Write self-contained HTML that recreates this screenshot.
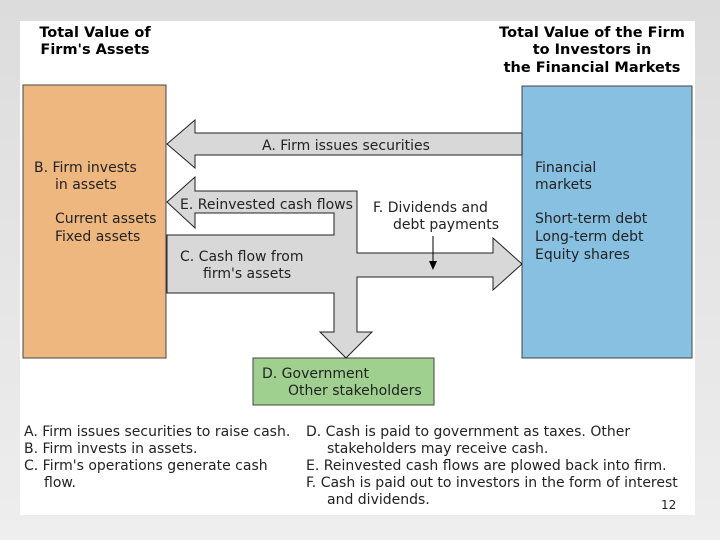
<!DOCTYPE html>
<html><head><style>
body{margin:0;width:720px;height:540px;background:linear-gradient(#dcdcdc,#eeeeee);position:relative;overflow:hidden;font-family:"DejaVu Sans","Liberation Sans",sans-serif;}
#w{position:absolute;left:20px;top:21px;width:675px;height:494px;background:#fff;}
svg{position:absolute;left:0;top:0}
</style></head><body>
<div id="w"></div>
<svg width="720" height="540" font-family="DejaVu Sans, Liberation Sans, sans-serif" font-size="14">
<text x="95" y="37" font-weight="bold" text-anchor="middle" font-size="14.5">Total Value of</text>
<text x="95" y="54" font-weight="bold" text-anchor="middle" font-size="14.5">Firm's Assets</text>
<text x="592" y="37" font-weight="bold" text-anchor="middle" font-size="14.5">Total Value of the Firm</text>
<text x="592" y="54" font-weight="bold" text-anchor="middle" font-size="14.5">to Investors in</text>
<text x="592" y="72" font-weight="bold" text-anchor="middle" font-size="14.5">the Financial Markets</text>
<rect x="23" y="85" width="143" height="273" fill="#eeb77f" stroke="#444" stroke-width="1"/>
<rect x="522" y="86" width="170" height="272" fill="#87c0e0" stroke="#444" stroke-width="1"/>
<rect x="253" y="358" width="181" height="47" fill="#9fd08f" stroke="#444" stroke-width="1"/>
<polygon points="167,144 195,120 195,133 522,133 522,155 195,155 195,168" fill="#d8d8d8" stroke="#222" stroke-width="1"/>
<polygon points="167,202 195,177 195,191 357,191 357,253 493,253 493,238 522,264 493,290 493,277 357,277 357,332 372,332 346,358 320,332 334,332 334,293 167,293 167,235 334,235 334,213 195,213 195,228" fill="#d8d8d8" stroke="#222" stroke-width="1"/>
<line x1="433" y1="236" x2="433" y2="262" stroke="#000" stroke-width="1"/>
<polygon points="429,261 437,261 433,270" fill="#000"/>
<g fill="#222">
<text x="262" y="150">A. Firm issues securities</text>
<text x="180" y="209">E. Reinvested cash flows</text>
<text x="373" y="212">F. Dividends and</text>
<text x="393" y="229">debt payments</text>
<text x="180" y="261">C. Cash flow from</text>
<text x="203" y="278">firm's assets</text>
<text x="34" y="172">B. Firm invests</text>
<text x="55" y="189">in assets</text>
<text x="55" y="223">Current assets</text>
<text x="55" y="241">Fixed assets</text>
<text x="535" y="172">Financial</text>
<text x="535" y="189">markets</text>
<text x="535" y="223">Short-term debt</text>
<text x="535" y="241">Long-term debt</text>
<text x="535" y="259">Equity shares</text>
<text x="262" y="378">D. Government</text>
<text x="288" y="395">Other stakeholders</text>
<text x="24" y="436">A.  Firm issues securities to raise cash.</text>
<text x="24" y="453">B.  Firm invests in assets.</text>
<text x="24" y="470">C.  Firm's operations generate cash</text>
<text x="44" y="487">flow.</text>
<text x="306" y="436">D. Cash is paid to government as taxes. Other</text>
<text x="327" y="453">stakeholders may receive cash.</text>
<text x="306" y="470">E.  Reinvested cash flows are plowed back into firm.</text>
<text x="306" y="487">F.   Cash is paid out to investors in the form of interest</text>
<text x="327" y="504">and dividends.</text>
<text x="661" y="509" font-size="12">12</text>
</g>
</svg>
</body></html>
